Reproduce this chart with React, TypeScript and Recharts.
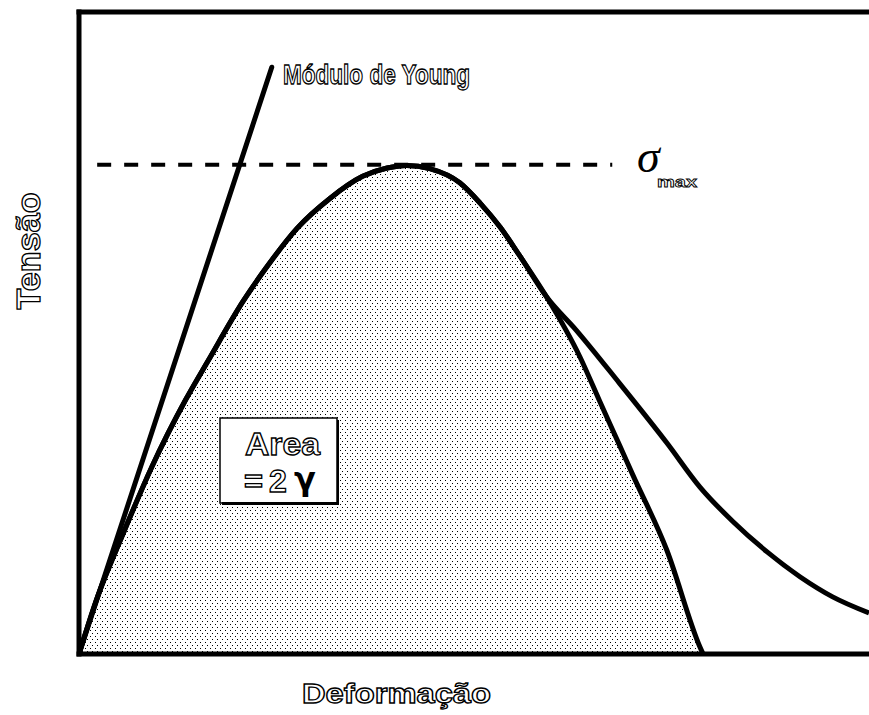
import { ComposedChart, Line, Area, XAxis, YAxis, ReferenceLine } from "recharts";

// strain (x) and stress (y) in arbitrary units, 0..100 over the plot frame
const youngLine = [
  { x: 0, y: 0 },
  { x: 24.4, y: 91.4 },
];

const sigmaMaxLine = [
  { x: 2.3, y: 76.2 },
  { x: 67.5, y: 76.2 },
];

// rising part shared by both curves, up to where they split
const sharedPart = [
  { x: 0, y: 0 },
  { x: 2.2, y: 8.4 },
  { x: 5.6, y: 18.8 },
  { x: 9.2, y: 29.1 },
  { x: 13.5, y: 39.6 },
  { x: 16.4, y: 45.8 },
  { x: 20.8, y: 55.0 },
  { x: 23.6, y: 60.0 },
  { x: 27.6, y: 66.3 },
  { x: 31.8, y: 71.0 },
  { x: 35.9, y: 74.4 },
  { x: 39.0, y: 75.7 },
  { x: 41.5, y: 76.1 },
  { x: 44.4, y: 75.6 },
  { x: 48.2, y: 73.4 },
  { x: 50.8, y: 70.2 },
  { x: 53.3, y: 66.5 },
  { x: 55.8, y: 62.0 },
  { x: 59.2, y: 55.6 },
];

// theoretical curve, area under it = 2 gamma
const idealTail = [
  { x: 63.4, y: 46.3 },
  { x: 65.9, y: 39.4 },
  { x: 68.5, y: 32.3 },
  { x: 70.1, y: 27.9 },
  { x: 74.4, y: 16.2 },
  { x: 78.6, y: 1.1 },
  { x: 79.0, y: 0 },
];

// real curve with long tail
const realTail = [
  { x: 62.9, y: 50.5 },
  { x: 68.4, y: 42.2 },
  { x: 74.4, y: 32.9 },
  { x: 78.6, y: 26.0 },
  { x: 82.8, y: 20.6 },
  { x: 87.1, y: 15.9 },
  { x: 91.3, y: 12.0 },
  { x: 95.4, y: 8.9 },
  { x: 100, y: 6.4 },
];

const idealCurve = [...sharedPart, ...idealTail];
const realCurve = [...sharedPart, ...realTail];

const outline = {
  fill: "#fff",
  stroke: "#000",
  strokeWidth: 1.3,
  fontFamily: "Liberation Sans, Arial, sans-serif",
  fontWeight: 700,
};

export default function App() {
  return (
    <div style={{ position: "absolute", left: 0, top: 0, width: 869, height: 715, background: "#fff", overflow: "hidden" }}>
      <svg width={0} height={0} style={{ position: "absolute" }}>
        <defs>
          <pattern id="dots" width={5} height={6} patternUnits="userSpaceOnUse">
            <rect x={0} y={0} width={1} height={1} fill="#000" />
            <rect x={2} y={3} width={1} height={1} fill="#000" />
          </pattern>
        </defs>
      </svg>
      <ComposedChart width={869} height={715} margin={{ top: 12, right: 0, bottom: 61, left: 79 }}>
        <XAxis type="number" dataKey="x" domain={[0, 100]} allowDataOverflow hide />
        <YAxis type="number" dataKey="y" domain={[0, 100]} allowDataOverflow hide />
        <Area
          data={idealCurve}
          dataKey="y"
          type="monotone"
          stroke="#000"
          strokeWidth={5}
          fill="url(#dots)"
          fillOpacity={1}
          isAnimationActive={false}
          dot={false}
          activeDot={false}
        />
        <Line
          data={realCurve}
          dataKey="y"
          type="monotone"
          stroke="#000"
          strokeWidth={5}
          dot={false}
          activeDot={false}
          isAnimationActive={false}
        />
        <Line
          data={youngLine}
          dataKey="y"
          type="linear"
          stroke="#000"
          strokeWidth={5}
          strokeLinecap="round"
          dot={false}
          activeDot={false}
          isAnimationActive={false}
        />
        <Line
          data={sigmaMaxLine}
          dataKey="y"
          type="linear"
          stroke="#000"
          strokeWidth={4}
          strokeDasharray="14 13"
          dot={false}
          activeDot={false}
          isAnimationActive={false}
        />
        {/* frame */}
        <ReferenceLine y={100} stroke="#000" strokeWidth={5} strokeLinecap="square" ifOverflow="visible" />
        <ReferenceLine y={0} stroke="#000" strokeWidth={5} strokeLinecap="square" ifOverflow="visible" />
        <ReferenceLine x={0} stroke="#000" strokeWidth={5} strokeLinecap="square" ifOverflow="visible" />
      </ComposedChart>
      <svg width={869} height={715} style={{ position: "absolute", left: 0, top: 0, pointerEvents: "none" }}>
        <text x={283} y={84} fontSize={28} textLength={187} lengthAdjust="spacingAndGlyphs" {...outline}>
          Módulo de Young
        </text>
        <text x={637} y={172} fontSize={46} fontStyle="italic" fontFamily="Liberation Serif, serif" fill="#000">
          σ
        </text>
        <text x={657} y={187} fontSize={15} textLength={40} lengthAdjust="spacingAndGlyphs" {...outline} strokeWidth={0.8}>
          max
        </text>
        <text x={302} y={703} fontSize={28} textLength={189} lengthAdjust="spacingAndGlyphs" {...outline}>
          Deformação
        </text>
        <text
          x={40}
          y={251}
          fontSize={34}
          textAnchor="middle"
          textLength={117}
          lengthAdjust="spacingAndGlyphs"
          transform="rotate(-90 40 251)"
          {...outline}
        >
          Tensão
        </text>
        <rect x={220} y={418} width={117} height={85} fill="#fff" stroke="#000" strokeWidth={1.5} />
        <line x1={222} y1={503.5} x2={338} y2={503.5} stroke="#000" strokeWidth={3} />
        <line x1={338} y1={420} x2={338} y2={505} stroke="#000" strokeWidth={2} />
        <text x={245} y={455} fontSize={32} textLength={75} lengthAdjust="spacingAndGlyphs" {...outline}>
          Area
        </text>
        <text x={244} y={492} fontSize={32} textLength={19} lengthAdjust="spacingAndGlyphs" {...outline}>
          =
        </text>
        <text x={269} y={492} fontSize={32} {...outline}>
          2
        </text>
        <text x={294} y={490} fontSize={32} fontWeight={700} fontFamily="DejaVu Sans, sans-serif" fill="#000">
          γ
        </text>
      </svg>
    </div>
  );
}
